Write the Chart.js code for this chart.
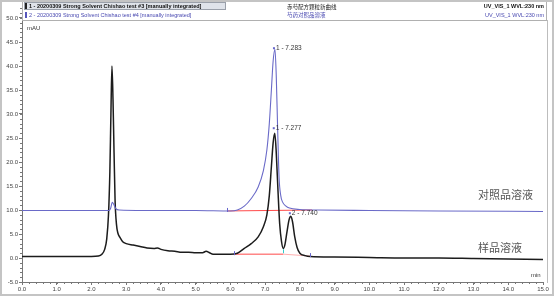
<!DOCTYPE html>
<html>
<head>
<meta charset="utf-8">
<script src="https://cdn.jsdelivr.net/npm/chart.js@4/dist/chart.umd.min.js"></script>
<style>
  html, body { margin: 0; padding: 0; background: #fff; }
  #wrap { width: 554px; height: 296px; }
</style>
</head>
<body>
<div id="wrap"><canvas id="myChart" width="554" height="296"></canvas></div>
<script>
// sample (black) trace, minutes / mAU
var sampleTime = [0.0, 1.0, 2.0, 2.2, 2.3, 2.38, 2.44, 2.49, 2.53, 2.56, 2.59, 2.62, 2.65, 2.68, 2.72, 2.76, 2.82, 2.9, 3.0, 3.2, 3.4, 3.6, 3.8, 3.9, 4.0, 4.2, 4.4, 4.6, 4.8, 5.0, 5.2, 5.3, 5.4, 5.5, 5.8, 6.0, 6.2, 6.4, 6.6, 6.8, 6.95, 7.05, 7.12, 7.18, 7.23, 7.277, 7.32, 7.37, 7.42, 7.47, 7.52, 7.57, 7.63, 7.69, 7.74, 7.79, 7.85, 7.92, 8.0, 8.15, 8.3, 9.0, 10.0, 11.0, 12.0, 13.0, 14.0, 15.0];
var sampleValue = [0.3, 0.3, 0.3, 0.4, 0.8, 1.8, 4, 9, 18, 30, 40, 33, 22, 12, 7, 5.2, 4.3, 3.4, 3.0, 2.7, 2.4, 2.1, 2.0, 2.1, 1.8, 1.5, 1.4, 1.2, 1.2, 1.1, 1.1, 1.4, 1.1, 0.8, 0.8, 0.8, 1.0, 2.0, 3.0, 4.4, 6.5, 9, 13, 19, 24, 26, 22, 14, 7, 3.5, 2.0, 2.8, 5.5, 8, 8.7, 7.5, 4.5, 2.2, 1.0, 0.5, 0.3, 0.2, 0.1, 0.0, 0.0, -0.1, -0.2, -0.3];

// reference (blue) trace
var refTime = [0.0, 2.0, 2.5, 2.55, 2.6, 2.64, 2.7, 2.8, 3.5, 5.0, 6.0, 6.2, 6.4, 6.6, 6.8, 6.95, 7.05, 7.12, 7.18, 7.23, 7.283, 7.32, 7.36, 7.4, 7.45, 7.5, 7.6, 7.7, 8.0, 8.5, 10.0, 12.0, 15.0];
var refValue = [9.9, 9.9, 9.9, 10.3, 11.6, 11.2, 10.3, 10.0, 9.9, 9.9, 9.8, 10.0, 10.8, 12.4, 14.8, 18.2, 22.5, 28, 35, 41, 43.5, 38, 27, 17, 13, 11.7, 10.8, 10.4, 10.1, 10.0, 9.9, 9.8, 9.7];

// integration baselines
var refBaseTime = [5.9, 8.35];
var refBaseValue = [9.8, 10.0];
var sampleBaseTime = [6.1, 7.52];
var sampleBaseValue = [0.8, 0.8];
var sampleBase2Time = [7.52, 8.3];
var sampleBase2Value = [0.8, 0.4];

// peak labels
var peakLabels = ['1 - 7.283', '1 - 7.277', '2 - 7.740'];
var peakTime = [7.283, 7.277, 7.74];
var peakValue = [43.5, 26, 8.7];

var xTicks = [0, 1, 2, 3, 4, 5, 6, 7, 8, 9, 10, 11, 12, 13, 14, 15];
var yTicks = [-5, 0, 5, 10, 15, 20, 25, 30, 35, 40, 45, 50];

function toPoints(xs, ys) {
    return xs.map((x, i) => ({ x: x, y: ys[i] }));
}

const frame = {
    id: 'frame',
    beforeDraw(chart) {
        const c = chart.ctx;
        c.save();
        c.fillStyle = '#fff';
        c.fillRect(0, 0, chart.width, chart.height);
        c.restore();
    },
    afterDraw(chart) {
        const c = chart.ctx;
        const xs = chart.scales.x, ys = chart.scales.y;
        const a = chart.chartArea;
        c.save();

        // minor ticks
        c.strokeStyle = '#777';
        c.lineWidth = 1;
        c.beginPath();
        for (let v = 0; v <= 15.001; v += 0.2) {
            const px = Math.round(xs.getPixelForValue(v)) + 0.5;
            c.moveTo(px, a.bottom);
            c.lineTo(px, a.bottom + 2);
        }
        for (let v = -5; v <= 52; v += 1) {
            const py = Math.round(ys.getPixelForValue(v)) + 0.5;
            c.moveTo(a.left - 2, py);
            c.lineTo(a.left, py);
        }
        c.stroke();

        // peak markers and labels
        c.font = '6.5px "Liberation Sans", Arial, sans-serif';
        c.textBaseline = 'middle';
        c.textAlign = 'left';
        const markColor = ['#6666cc', '#6666cc', '#6666cc'];
        const dy = [-1, -5, -3];
        for (let i = 0; i < peakLabels.length; i++) {
            const px = xs.getPixelForValue(peakTime[i]);
            const py = ys.getPixelForValue(peakValue[i]) + dy[i];
            c.fillStyle = markColor[i];
            c.fillRect(px - 2, py - 1, 2, 2);
            c.fillStyle = '#333';
            c.fillText(peakLabels[i], px + 1, py);
        }

        // small delimiter ticks
        c.lineWidth = 1;
        const delim = [[5.9, 9.8, '#6666cc'], [6.1, 0.8, '#6666cc'], [7.52, 1.2, '#33cccc'], [8.3, 0.4, '#6666cc']];
        delim.forEach(d => {
            const px = Math.round(xs.getPixelForValue(d[0])) + 0.5;
            const py = ys.getPixelForValue(d[1]);
            c.strokeStyle = d[2];
            c.beginPath();
            c.moveTo(px, py - 3);
            c.lineTo(px, py + 1);
            c.stroke();
        });

        // axis texts
        c.fillStyle = '#333';
        c.font = '6px "Liberation Sans", Arial, sans-serif';
        c.fillText('mAU', a.left + 5, 28);
        c.fillText('min', 531, 275);

        // trace names
        c.fillStyle = '#555';
        c.font = '11px "Noto Sans CJK SC", sans-serif';
        c.fillText('对照品溶液', 478, 195);
        c.fillText('样品溶液', 478, 248);

        // header legend
        c.fillStyle = '#fff';
        c.fillRect(a.left, 0, 547 - a.left, 21);
        c.strokeStyle = '#b0b0b0';
        c.strokeRect(a.left + 0.5, 0.5, 547 - a.left - 1, 20);
        c.fillStyle = '#dfe3ea';
        c.fillRect(a.left + 2, 2, 202, 8);
        c.strokeStyle = '#9aa0aa';
        c.strokeRect(a.left + 2.5, 2.5, 201, 7);
        c.fillStyle = '#222';
        c.fillRect(a.left + 3, 3, 2, 6);
        c.fillStyle = '#5555bb';
        c.fillRect(a.left + 3, 12, 2, 6);

        c.font = 'bold 5.5px "Liberation Sans", Arial, sans-serif';
        c.fillStyle = '#111';
        c.fillText('1 - 20200309 Strong Solvent Chishao test #3 [manually integrated]', a.left + 7, 6.5);
        c.font = '5.5px "Liberation Sans", Arial, sans-serif';
        c.fillStyle = '#4848b0';
        c.fillText('2 - 20200309 Strong Solvent Chishao test #4 [manually integrated]', a.left + 7, 15);

        c.font = '5.5px "Noto Sans CJK SC", sans-serif';
        c.fillStyle = '#222';
        c.fillText('赤芍配方颗粒新曲线', 287, 6.5);
        c.fillStyle = '#4848b0';
        c.fillText('芍药对照品溶液', 287, 15);

        c.textAlign = 'right';
        c.font = 'bold 5.5px "Liberation Sans", Arial, sans-serif';
        c.fillStyle = '#111';
        c.fillText('UV_VIS_1 WVL:230 nm', 544, 6.5);
        c.font = '5.5px "Liberation Sans", Arial, sans-serif';
        c.fillStyle = '#4848b0';
        c.fillText('UV_VIS_1 WVL:230 nm', 544, 15);

        // right frame and outer border
        c.strokeStyle = '#bdbdbd';
        c.lineWidth = 1;
        c.beginPath();
        c.moveTo(547.5, 20);
        c.lineTo(547.5, a.bottom + 1);
        c.stroke();
        c.strokeStyle = '#c4c4c4';
        c.lineWidth = 2;
        c.strokeRect(1, 1, chart.width - 2, chart.height - 2);
        c.restore();
    }
};

var ctx = document.getElementById('myChart').getContext('2d');
var myChart = new Chart(ctx, {
    type: 'scatter',
    data: {
        datasets: [
            {
                label: 'ref',
                data: toPoints(refTime, refValue),
                showLine: true,
                borderColor: '#6a6ac8',
                borderWidth: 1.1,
                pointRadius: 0,
                cubicInterpolationMode: 'monotone'
            },
            {
                label: 'sample',
                data: toPoints(sampleTime, sampleValue),
                showLine: true,
                borderColor: '#1c1c1c',
                borderWidth: 1.5,
                pointRadius: 0,
                cubicInterpolationMode: 'monotone'
            },
            {
                label: 'refBase',
                data: toPoints(refBaseTime, refBaseValue),
                showLine: true,
                borderColor: '#ff4a4a',
                borderWidth: 1,
                pointRadius: 0
            },
            {
                label: 'sampleBase',
                data: toPoints(sampleBaseTime, sampleBaseValue),
                showLine: true,
                borderColor: '#ff4a4a',
                borderWidth: 1,
                pointRadius: 0
            },
            {
                label: 'sampleBase2',
                data: toPoints(sampleBase2Time, sampleBase2Value),
                showLine: true,
                borderColor: '#ffb0b0',
                borderWidth: 1,
                pointRadius: 0
            }
        ]
    },
    options: {
        responsive: false,
        animation: false,
        layout: { padding: { top: 6, right: 11, bottom: 0, left: 0 } },
        plugins: {
            legend: { display: false },
            tooltip: { enabled: false }
        },
        scales: {
            x: {
                type: 'linear',
                min: 0,
                max: 15,
                afterBuildTicks: s => { s.ticks = xTicks.map(v => ({ value: v })); },
                afterFit: s => { s.height = 14; },
                ticks: {
                    callback: v => v.toFixed(1),
                    font: { size: 6, family: '"Liberation Sans", Arial, sans-serif' },
                    color: '#444',
                    padding: 1,
                    maxRotation: 0,
                    autoSkip: false
                },
                grid: { drawOnChartArea: false, drawTicks: true, tickLength: 3, color: '#777' },
                border: { display: true, color: '#777' }
            },
            y: {
                min: -5,
                max: 52.5,
                afterBuildTicks: s => { s.ticks = yTicks.map(v => ({ value: v })); },
                afterFit: s => { s.width = 22; },
                ticks: {
                    callback: v => v.toFixed(1),
                    font: { size: 6, family: '"Liberation Sans", Arial, sans-serif' },
                    color: '#444',
                    padding: 1,
                    autoSkip: false
                },
                grid: { drawOnChartArea: false, drawTicks: true, tickLength: 3, color: '#777' },
                border: { display: true, color: '#777' }
            }
        }
    },
    plugins: [frame]
});
</script>
</body>
</html>
